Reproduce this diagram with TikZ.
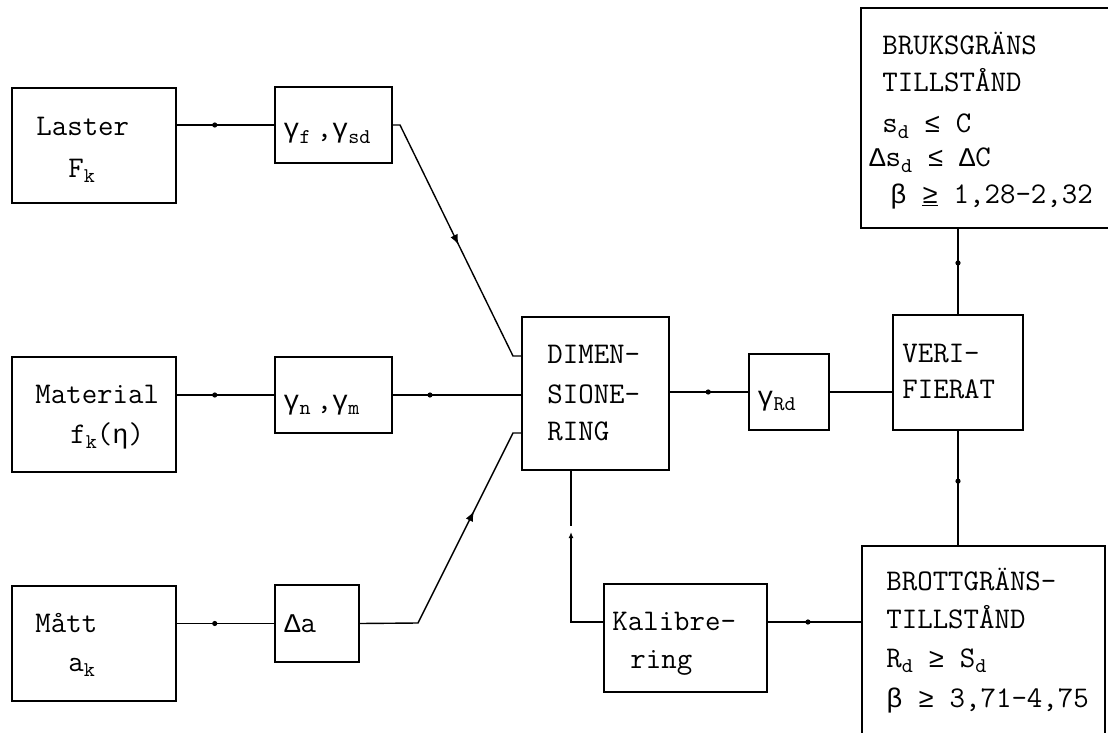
\documentclass[tikz,border=0pt]{standalone}
\usepackage{fontspec}
\newfontfamily\grkfont{Liberation Mono}
\usetikzlibrary{fit,arrows.meta,decorations.markings}
\newcommand\lsub[1]{\raisebox{-2.8pt}{\fontsize{10.5}{11}\selectfont #1}}
\newcommand\gr[1]{{\grkfont\fontsize{13.5}{16}\selectfont #1}}
\tikzset{
  box/.style={draw, line width=0.7pt, inner sep=0pt},
  conn/.style={line width=0.7pt},
  txt/.style={anchor=base west, inner sep=0pt, font=\ttfamily\fontsize{15}{16}\selectfont},
  dotat/.style={postaction={decorate}, decoration={markings,
      mark=at position #1 with {\fill circle (1.3pt);}}},
  tipat/.style={postaction={decorate}, decoration={markings,
      mark=at position #1 with {\arrow{Latex[length=5pt,width=4pt]}}}},
}
\begin{document}
\begin{tikzpicture}[x=0.5pt,y=-0.5pt]
\useasboundingbox (0,0) rectangle (1108,733);

% input boxes
\node[box, fit={(12,88) (176,203)}] (laster) {};
\node[box, fit={(12,357) (176,472)}] (material) {};
\node[box, fit={(12,586) (176,701)}] (matt) {};
% partial factor boxes
\node[box, fit={(275,87) (392,163)}] (gf) {};
\node[box, fit={(275,357) (392,433)}] (gn) {};
\node[box, fit={(275,585) (359,662)}] (da) {};
% design, resistance factor, verification
\node[box, fit={(522,317) (669,470)}] (dim) {};
\node[box, fit={(749,354) (829,430)}] (grd) {};
\node[box, fit={(893,315) (1023,430)}] (verif) {};
% limit states and calibration
\node[box, fit={(861,8) (1115,228)}] (bruks) {};
\node[box, fit={(862,546) (1105,740)}] (brott) {};
\node[box, fit={(604,584) (767,692)}] (kal) {};

% texts
\node[txt] (t-laster) at (36,135) {Laster};
\node[txt] (t-fk) at (68,177) {F\lsub{k}};
\node[txt] (t-material) at (35,403) {Material};
\node[txt] (t-fketa) at (70,443) {f\lsub{k}(\gr{η})};
\node[txt] (t-matt) at (35,632) {Mått};
\node[txt] (t-ak) at (68,671) {a\lsub{k}};
\node[txt] (t-gf) at (283,138) {\gr{γ}\lsub{f}\hspace{3pt},\gr{γ}\lsub{sd}};
\node[txt] (t-gn) at (283,409) {\gr{γ}\lsub{n}\hspace{3pt},\gr{γ}\lsub{m}};
\node[txt] (t-da) at (284,632) {\gr{Δ}a};
\node[txt] (t-dim1) at (547,363) {DIMEN-};
\node[txt] (t-dim2) at (547,403) {SIONE-};
\node[txt] (t-dim3) at (547,440) {RING};
\node[txt] (t-grd) at (757,405) {\gr{γ}\lsub{Rd}};
\node[txt] (t-ver1) at (902,362) {VERI-};
\node[txt] (t-ver2) at (902,398) {FIERAT};
\node[txt] (t-kal1) at (612,630) {Kalibre-};
\node[txt] (t-kal2) at (630,668) {ring};
\node[txt] (t-br1) at (882,55) {BRUKSGRÄNS};
\node[txt] (t-br2) at (882,92) {TILLSTÅND};
\node[txt] (t-br3) at (882,133) {s\lsub{d} \gr{≤} C};
\node[txt] (t-br4) at (869,167) {\gr{Δ}s\lsub{d} \gr{≤} \gr{Δ}C};
\node[txt] (t-br5) at (890,203) {\gr{β} \underline{\gr{≥}} 1,28-2,32};
\node[txt] (t-bo1) at (886,590) {BROTTGRÄNS-};
\node[txt] (t-bo2) at (886,628) {TILLSTÅND};
\node[txt] (t-bo3) at (886,667) {R\lsub{d} \gr{≥} S\lsub{d}};
\node[txt] (t-bo4) at (886,707) {\gr{β} \gr{≥} 3,71-4,75};

% bends of the connectors
\coordinate (gfa) at (400,125);
\coordinate (gfb) at (513,356);
\coordinate (daa) at (418,623);
\coordinate (dab) at (513,433);
\coordinate (kk) at (571,622);
\coordinate (gap1) at (571,526);
\coordinate (gap2) at (571,532);

% connectors
\draw[conn, dotat=0.39] (gf.west -| laster.east) -- (gf.west);
\draw[conn, dotat=0.39] (gn.west -| material.east) -- (gn.west);
\draw[conn, dotat=0.39] (da.west -| matt.east) -- (da.west);
\draw[conn, dotat=0.29] (gn.east) -- (gn.east -| dim.west);
\draw[conn, tipat=0.515] (gf.east) -- (gfa) -- (gfb) -- (gfb -| dim.west);
\draw[conn, tipat=0.657] (da.east) -- (daa) -- (dab) -- (dab -| dim.west);
\draw[conn, dotat=0.49] (dim.east |- grd.west) -- (grd.west);
\draw[conn] (grd.east) -- (grd.east -| verif.west);
\draw[conn, dotat=0.6] (verif.north) -- (verif.north |- bruks.south);
\draw[conn, dotat=0.44] (verif.south) -- (verif.south |- brott.north);
\draw[conn, dotat=0.57] (brott.west |- kk) -- (kal.east |- kk);
\draw[conn] (dim.south -| kk) -- (gap1);
\draw[conn, {Latex[length=3pt,width=2.4pt]}-] (gap2) -- (kk) -- (kal.west |- kk);
\end{tikzpicture}
\end{document}
